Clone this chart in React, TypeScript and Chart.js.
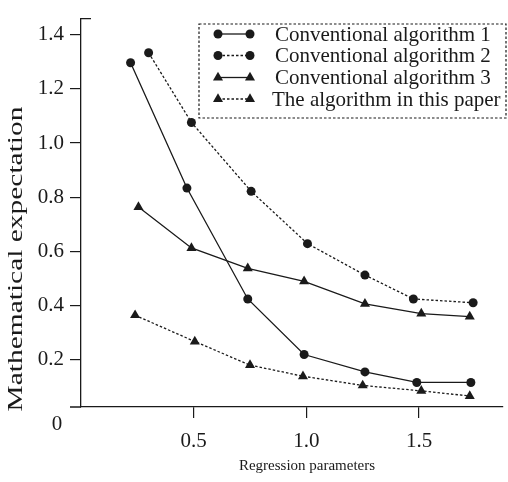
import React, { useEffect, useRef } from 'react';
import { Chart, registerables } from 'chart.js';
import { drawPoint } from 'chart.js/helpers';

Chart.register(...registerables);

const seriesLabels = [
  'Conventional algorithm 1',
  'Conventional algorithm 2',
  'Conventional algorithm 3',
  'The algorithm in this paper',
];

const xCA1 = [0.22, 0.47, 0.74, 0.99, 1.26, 1.49, 1.73];
const yCA1 = [1.296, 0.834, 0.425, 0.22, 0.156, 0.117, 0.117];

const xCA2 = [0.3, 0.49, 0.755, 1.005, 1.26, 1.475, 1.74];
const yCA2 = [1.333, 1.076, 0.822, 0.629, 0.513, 0.425, 0.411];

const xCA3 = [0.255, 0.49, 0.74, 0.99, 1.26, 1.51, 1.725];
const yCA3 = [0.764, 0.613, 0.538, 0.49, 0.407, 0.371, 0.36];

const xPaper = [0.24, 0.505, 0.75, 0.985, 1.25, 1.51, 1.725];
const yPaper = [0.365, 0.268, 0.181, 0.14, 0.106, 0.086, 0.067];

const xTickValues = [0.5, 1.0, 1.5];
const yTickValues = [0.2, 0.4, 0.6, 0.8, 1.0, 1.2, 1.4];

const xTitle = 'Regression parameters';
const yTitle = 'Mathematical expectation';
const originLabel = '0';

const SERIF = '"Liberation Serif", "Times New Roman", serif';
const INK = '#1a1a1a';

const pts = (xs: number[], ys: number[]) => xs.map((x, i) => ({ x, y: ys[i] }));

export default function App() {
  const ref = useRef<HTMLCanvasElement>(null);

  useEffect(() => {
    const canvas = ref.current;
    if (!canvas) return;

    const styles = [
      { dash: [] as number[], pointStyle: 'circle', r: 4.5 },
      { dash: [2.5, 2], pointStyle: 'circle', r: 4.5 },
      { dash: [] as number[], pointStyle: 'triangle', r: 5.8 },
      { dash: [2.5, 2], pointStyle: 'triangle', r: 5.8 },
    ];
    const dataSets = [pts(xCA1, yCA1), pts(xCA2, yCA2), pts(xCA3, yCA3), pts(xPaper, yPaper)];

    const decor = {
      id: 'decor',
      afterDraw(chart: any) {
        const ctx = chart.ctx as CanvasRenderingContext2D;
        const { left, top, bottom } = chart.chartArea;
        ctx.save();
        // axis extensions
        ctx.strokeStyle = INK;
        ctx.lineWidth = 1.3;
        ctx.setLineDash([]);
        ctx.beginPath();
        ctx.moveTo(70, bottom);
        ctx.lineTo(left, bottom);
        ctx.moveTo(left, top);
        ctx.lineTo(left + 10, top);
        ctx.stroke();

        // origin label
        ctx.fillStyle = INK;
        ctx.font = `21px ${SERIF}`;
        ctx.textAlign = 'center';
        ctx.textBaseline = 'middle';
        ctx.fillText(originLabel, 57, 424);

        // x title
        ctx.font = `15px ${SERIF}`;
        ctx.fillText(xTitle, 307, 466);

        // y title (stretched along its length)
        ctx.save();
        ctx.translate(17, 259);
        ctx.rotate(-Math.PI / 2);
        ctx.font = `20px ${SERIF}`;
        const w = ctx.measureText(yTitle).width;
        ctx.scale(305 / w, 1);
        ctx.fillText(yTitle, 0, 0);
        ctx.restore();

        // legend
        const bx = 199, by = 24, bw = 307, bh = 94;
        ctx.lineWidth = 1.2;
        ctx.setLineDash([2.5, 2]);
        ctx.strokeRect(bx, by, bw, bh);
        const rows = [34, 55.5, 77.5, 99];
        chart.data.datasets.forEach((ds: any, i: number) => {
          const y = rows[i];
          ctx.setLineDash(ds.borderDash || []);
          ctx.lineWidth = 1.3;
          ctx.strokeStyle = INK;
          ctx.beginPath();
          ctx.moveTo(218, y);
          ctx.lineTo(250, y);
          ctx.stroke();
          ctx.setLineDash([]);
          ctx.fillStyle = INK;
          [218, 250].forEach((px) => {
            drawPoint(ctx, { pointStyle: ds.pointStyle, radius: ds.pointRadius, rotation: 0, borderWidth: 0 } as any, px, y);
          });
          ctx.fillStyle = INK;
          ctx.font = `21px ${SERIF}`;
          ctx.textAlign = 'left';
          ctx.textBaseline = 'middle';
          ctx.fillText(ds.label, i === 3 ? 272 : 275, y + 1);
        });
        ctx.restore();
      },
    };

    const chart = new Chart(canvas, {
      type: 'line',
      data: {
        datasets: dataSets.map((d, i) => ({
          label: seriesLabels[i],
          data: d,
          borderColor: INK,
          backgroundColor: INK,
          borderWidth: 1.3,
          borderDash: styles[i].dash,
          pointStyle: styles[i].pointStyle as any,
          pointRadius: styles[i].r,
          pointBorderWidth: 0,
          pointBackgroundColor: INK,
          tension: 0,
          fill: false,
        })),
      },
      options: {
        responsive: false,
        animation: false,
        devicePixelRatio: 1,
        layout: { padding: { top: 5, left: 0, right: 0, bottom: 0 } },
        plugins: {
          legend: { display: false },
          tooltip: { enabled: false },
          title: { display: false },
        },
        scales: {
          x: {
            type: 'linear',
            min: 0,
            max: 1.869,
            afterBuildTicks: (s: any) => {
              s.ticks = xTickValues.map((v) => ({ value: v }));
            },
            afterFit: (s: any) => {
              s.height = 75;
            },
            ticks: {
              font: { family: SERIF, size: 21 },
              color: INK,
              padding: 11,
              maxRotation: 0,
              autoSkip: false,
              callback: (v: any) => Number(v).toFixed(1),
            },
            grid: { drawOnChartArea: false, drawTicks: true, tickLength: 11, color: INK, lineWidth: 1.2 },
            border: { color: INK, width: 1.3 },
          },
          y: {
            type: 'linear',
            min: 0.0265,
            max: 1.459,
            afterBuildTicks: (s: any) => {
              s.ticks = yTickValues.map((v) => ({ value: v }));
            },
            afterFit: (s: any) => {
              s.width = 81;
            },
            ticks: {
              font: { family: SERIF, size: 21 },
              color: INK,
              padding: 6,
              autoSkip: false,
              callback: (v: any) => Number(v).toFixed(1),
            },
            grid: { drawOnChartArea: false, drawTicks: true, tickLength: 11, color: INK, lineWidth: 1.2 },
            border: { color: INK, width: 1.3 },
          },
        },
      },
      plugins: [decor],
    });

    return () => chart.destroy();
  }, []);

  return (
    <div style={{ position: 'fixed', left: 0, top: 0, width: 508, height: 482, background: '#fff' }}>
      <canvas ref={ref} width={508} height={482} style={{ width: 508, height: 482, display: 'block' }} />
    </div>
  );
}
